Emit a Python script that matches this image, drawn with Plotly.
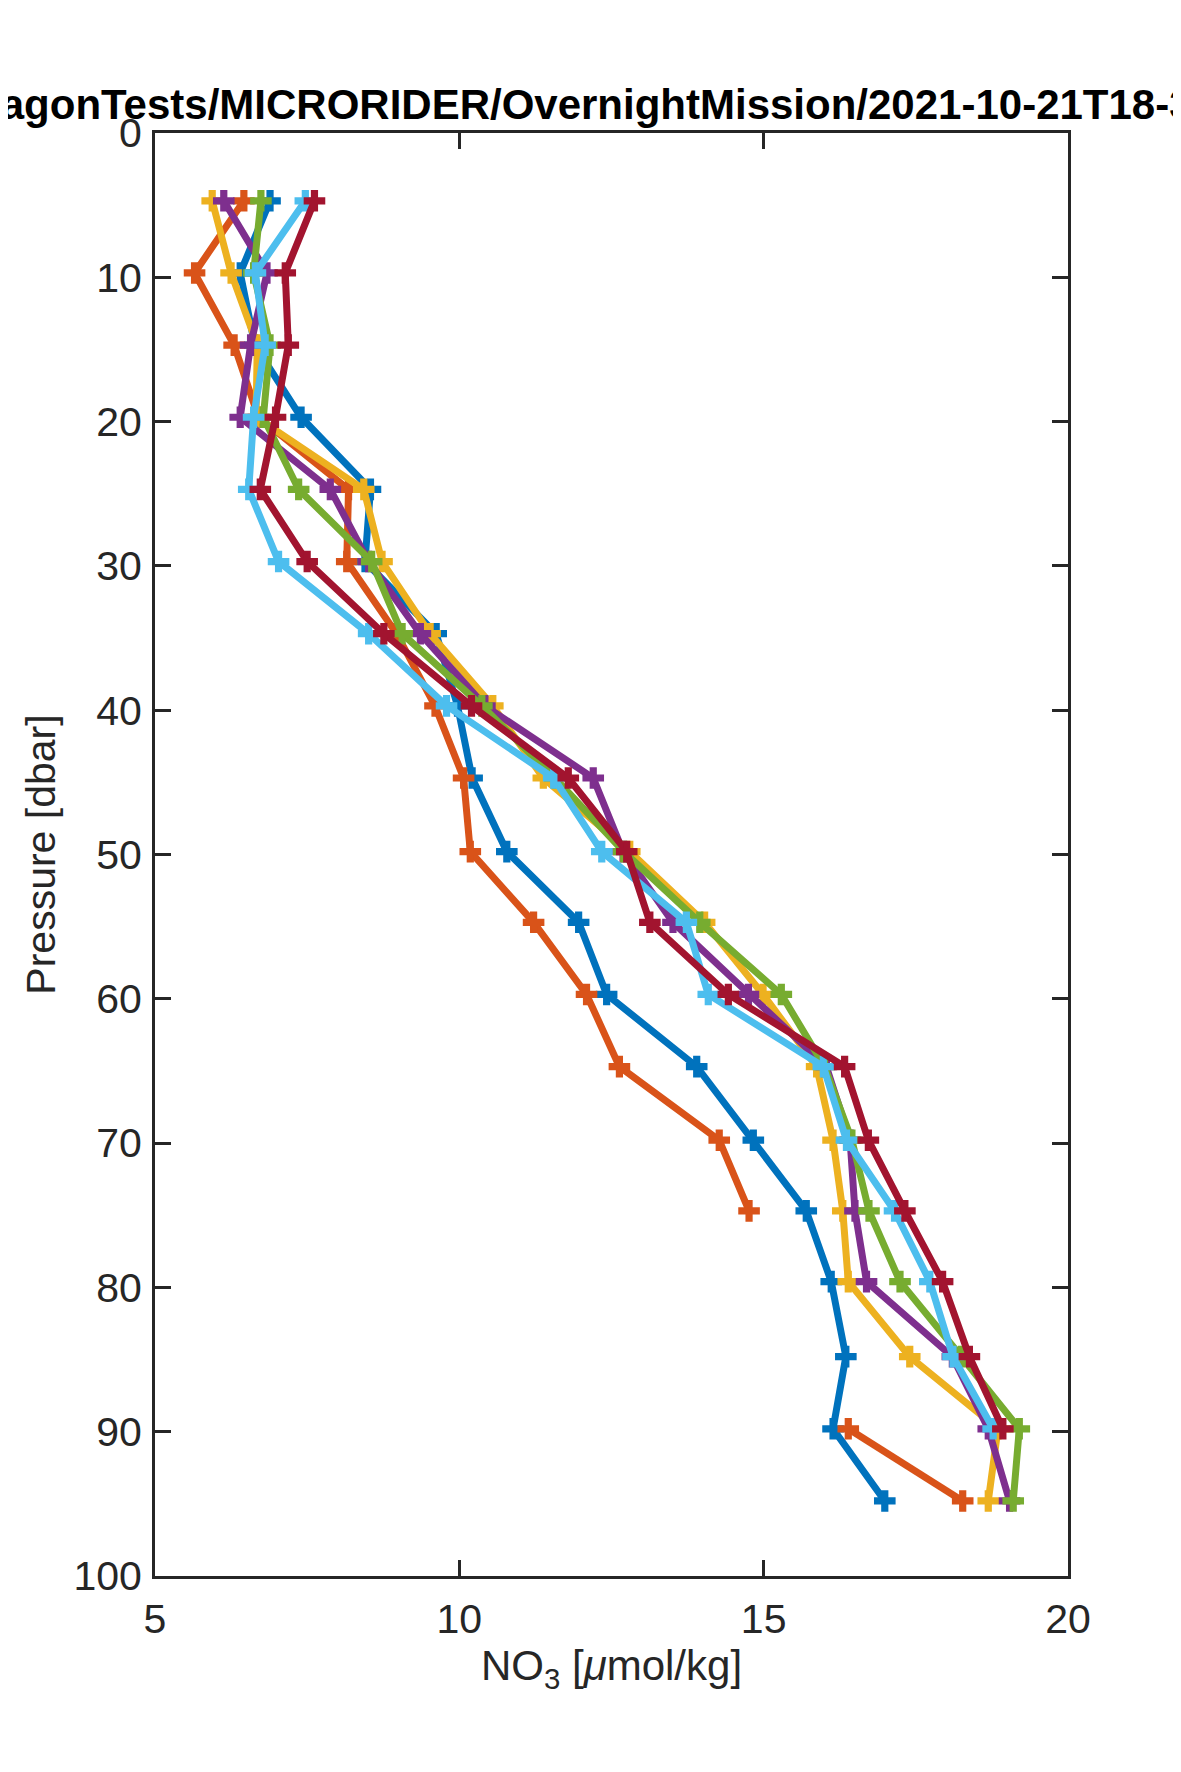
import plotly.graph_objects as go

# pressure levels (dbar) shared by every profile
pressure = [4.7, 9.7, 14.7, 19.7, 24.7, 29.7, 34.7, 39.7, 44.7, 49.8,
            54.7, 59.7, 64.7, 69.8, 74.7, 79.6, 84.8, 89.8, 94.8]

# NO3 [umol/kg] for each profile (None = no data)
no3_blue = [6.89, 6.40, 6.64, 7.40, 8.54, 8.45, 9.62, 9.97, 10.21, 10.78,
            11.96, 12.42, 13.90, 14.83, 15.70, 16.11, 16.35, 16.14, 16.99]
no3_orange = [6.46, 5.65, 6.30, 6.70, 8.18, 8.15, 8.97, 9.60, 10.07, 10.18,
              11.22, 12.09, 12.63, 14.27, 14.76, None, None, 16.39, 18.27]
no3_yellow = [5.94, 6.25, 6.68, 6.66, 8.43, 8.73, 9.52, 10.55, 11.38, 12.80,
              14.03, 14.99, 15.87, 16.14, 16.30, 16.39, 17.40, 18.85, 18.69]
no3_purple = [6.13, 6.84, 6.57, 6.40, 7.88, 8.51, 9.36, 10.42, 12.20, 12.69,
              13.51, 14.75, 16.03, 16.42, 16.50, 16.69, 18.10, 18.69, 19.04]
no3_green = [6.74, 6.62, 6.89, 6.78, 7.36, 8.56, 9.06, 10.37, 11.57, 12.70,
             13.95, 15.29, 16.00, 16.45, 16.73, 17.24, 18.25, 19.20, 19.10]
no3_lightblue = [7.47, 6.65, 6.81, 6.62, 6.54, 7.03, 8.51, 9.79, 11.55, 12.34,
                 13.73, 14.09, 15.98, 16.36, 17.15, 17.73, 18.11, 18.77, None]
no3_darkred = [7.62, 7.14, 7.19, 6.98, 6.73, 7.50, 8.76, 10.20, 11.79, 12.75,
               13.13, 14.42, 16.33, 16.72, 17.32, 17.94, 18.38, 18.93, None]

profiles = [no3_blue, no3_orange, no3_yellow, no3_purple,
            no3_green, no3_lightblue, no3_darkred]
colors = ['#0072BD', '#D95319', '#EDB120', '#7E2F8E',
          '#77AC30', '#4DBEEE', '#A2142F']

title_text = 'ParagonTests/MICRORIDER/OvernightMission/2021-10-21T18-30'

FONT = 'Liberation Sans, Arial, Helvetica, sans-serif'
AX = '#262626'

fig = go.Figure()
for vals, col in zip(profiles, colors):
    fig.add_trace(go.Scatter(
        x=vals, y=pressure, mode='lines+markers',
        line=dict(color=col, width=7),
        marker=dict(symbol='cross', size=18, color=col),
        showlegend=False))

axis_style = dict(
    showgrid=False, zeroline=False,
    ticks='inside', ticklen=16, tickwidth=3, tickcolor=AX,
    showline=True, linewidth=3, linecolor=AX, mirror='ticks',
    tickfont=dict(size=41, color=AX, family=FONT),
)

fig.update_xaxes(range=[5, 20], tickvals=[5, 10, 15, 20],
                 ticklabelstandoff=5,
                 title=dict(text='NO<sub>3</sub> [<i>μ</i>mol/kg]',
                            font=dict(size=42, color=AX, family=FONT),
                            standoff=10),
                 **axis_style)
fig.update_yaxes(range=[100, 0], tickvals=list(range(0, 101, 10)),
                 ticklabelstandoff=2,
                 title=dict(text='Pressure [dbar]',
                            font=dict(size=41, color=AX, family=FONT),
                            standoff=6),
                 **axis_style)

# title is wider than the figure, so it gets cut on both sides like the original
fig.add_annotation(
    text='<b>' + title_text + '</b>',
    xref='paper', yref='paper', x=0, y=1,
    xanchor='left', yanchor='bottom', xshift=-224, yshift=3,
    showarrow=False, font=dict(size=42, color='black', family=FONT))

fig.update_layout(
    width=1181, height=1772,
    margin=dict(l=147, r=121, t=125, b=204),
    plot_bgcolor='white', paper_bgcolor='white',
    font=dict(family=FONT, color=AX),
)

fig.write_html('out.html')
